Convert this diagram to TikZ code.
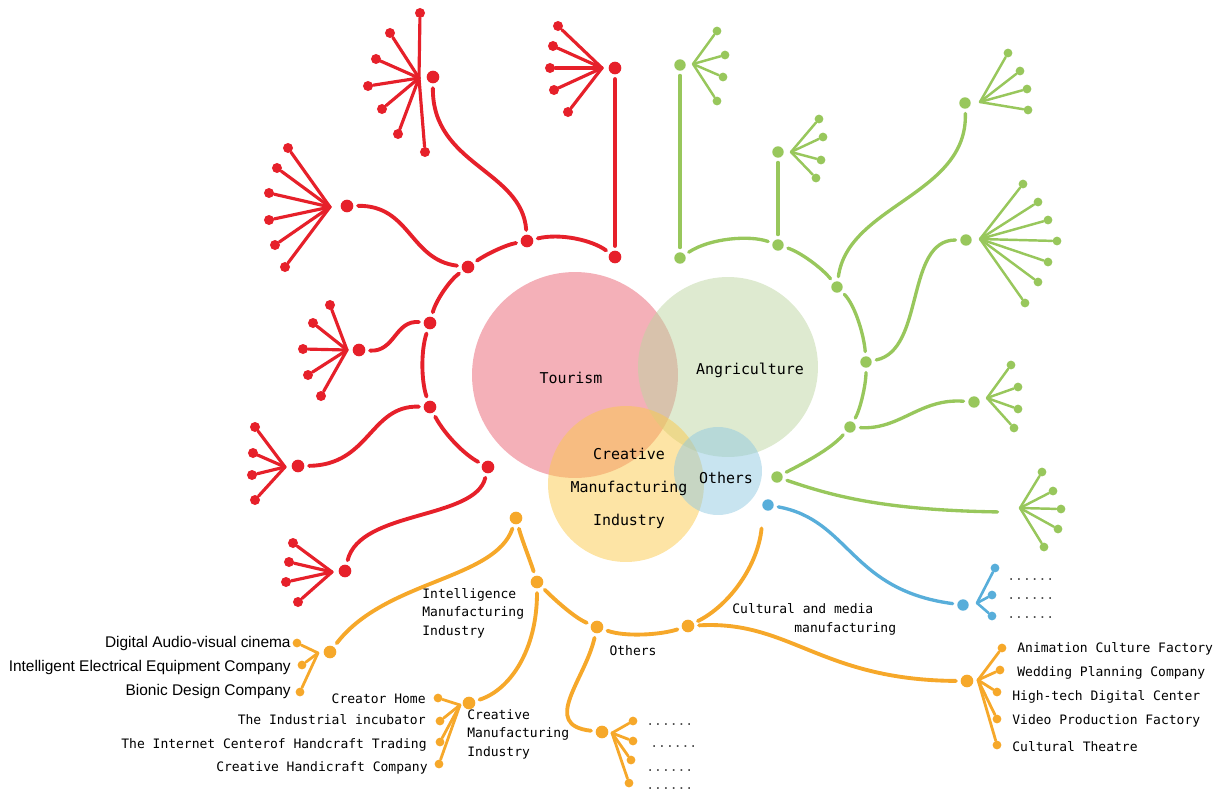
\documentclass[tikz,border=0pt]{standalone}
\usepackage{fontspec}
\newfontfamily\labelmono{DejaVu Sans Mono}
\newfontfamily\labelsans{Liberation Sans}

\definecolor{tred}{RGB}{230,32,42}
\definecolor{tgreen}{RGB}{152,199,92}
\definecolor{torange}{RGB}{246,168,42}
\definecolor{tblue}{RGB}{88,174,218}
\definecolor{tpink}{RGB}{233,97,113}
\definecolor{tsage}{RGB}{189,213,161}
\definecolor{tsand}{RGB}{251,201,75}
\definecolor{tsky}{RGB}{145,201,225}

\begin{document}
\begin{tikzpicture}[x=0.02cm,y=-0.02cm,line cap=round]

	\tikzstyle{hub}=[circle,fill,inner sep=0pt,minimum size=7.2pt]
	\tikzstyle{leaf}=[circle,fill,inner sep=0pt,minimum size=5.7pt]
	\tikzstyle{link}=[line width=2.2pt,shorten <=2.5pt,shorten >=2.5pt]
	\tikzstyle{twig}=[line width=1.8pt]
	\tikzstyle{venn}=[circle,inner sep=0pt,fill opacity=0.5]
	\tikzstyle{venntext}=[font=\labelmono\fontsize{8.5}{18.8}\selectfont,align=center]
	\tikzstyle{word}=[font=\labelmono\fontsize{7.4}{10.5}\selectfont,
		inner sep=0pt,text height=1.6ex,text depth=.3ex]
	\tikzstyle{block}=[font=\labelmono\fontsize{7.4}{10.5}\selectfont,
		inner sep=0pt,align=left]
	\tikzstyle{firm}=[font=\labelsans\fontsize{8.8}{10}\selectfont,
		inner sep=0pt,text height=1.6ex,text depth=.3ex,anchor=east]

	\useasboundingbox (0,0) rectangle (1215,792);

	% the four sectors
	\node[venn,fill=tpink,minimum size=4.12cm]	(tourism)	at (575,375) {};
	\node[venn,fill=tsage,minimum size=3.6cm]	(agri)		at (728,367) {};
	\node[venn,fill=tsand,minimum size=3.12cm]	(creative)	at (626,484) {};
	\node[venn,fill=tsky,minimum size=1.76cm]	(others)	at (718,471) {};
	\node[venntext]	(tourismlab)	at (571,378) {Tourism};
	\node[venntext]	(agrilab)		at (750,370) {Angriculture};
	\node[venntext]	(creativelab)	at (629,488) {Creative\\Manufacturing\\Industry};
	\node[venntext]	(otherslab)		at (726,478) {Others};

	% tourism
	\begin{scope}[tred]
		\node[hub]	(r1)	at (615,257) {};
		\node[hub]	(r2)	at (527,241) {};
		\node[hub]	(r3)	at (468,267) {};
		\node[hub]	(r4)	at (430,323) {};
		\node[hub]	(r5)	at (430,407) {};
		\node[hub]	(r6)	at (488,467) {};
		\node[hub]	(ra)	at (615,68) {};
		\node[hub]	(rb)	at (433,77) {};
		\node[hub]	(rc)	at (347,206) {};
		\node[hub]	(rd)	at (359,350) {};
		\node[hub]	(re)	at (298,466) {};
		\node[hub]	(rf)	at (345,571) {};

		\draw[link] (r2) .. controls (560,233) and (592,240) .. (r1);
		\draw[link] (r3) .. controls (485,255) and (505,245) .. (r2);
		\draw[link] (r4) .. controls (436,300) and (450,280) .. (r3);
		\draw[link] (r5) .. controls (421,380) and (421,350) .. (r4);
		\draw[link] (r6) .. controls (465,455) and (445,435) .. (r5);

		\draw[link] (r1) -- (ra);
		\draw[link] (r2) .. controls (522,170) and (432,165) .. (rb);
		\draw[link] (r3) .. controls (410,260) and (410,205) .. (rc);
		\draw[link] (r4) .. controls (395,320) and (395,352) .. (rd);
		\draw[link] (r5) .. controls (370,405) and (370,465) .. (re);
		\draw[link] (r6) .. controls (475,520) and (360,510) .. (rf);

		\coordinate (rca) at (602,68);
		\coordinate (rcb) at (419,78);
		\coordinate (rcc) at (330,207);
		\coordinate (rcd) at (347,350);
		\coordinate (rce) at (285,467);
		\coordinate (rcf) at (332,572);
		\foreach \x/\y [count=\i] in {558/26,553/46,550/68,554/90,568/112}
			{\node[leaf] (ra\i) at (\x,\y) {}; \draw[twig] (rca) -- (ra\i);}
		\foreach \x/\y [count=\i] in {420/13,390/33,376/59,368/86,382/109,398/134,425/152}
			{\node[leaf] (rb\i) at (\x,\y) {}; \draw[twig] (rcb) -- (rb\i);}
		\foreach \x/\y [count=\i] in {288/148,277/168,269/193,269/220,275/245,285/267}
			{\node[leaf] (rc\i) at (\x,\y) {}; \draw[twig] (rcc) -- (rc\i);}
		\foreach \x/\y [count=\i] in {330/305,313/323,303/349,308/375,321/396}
			{\node[leaf] (rd\i) at (\x,\y) {}; \draw[twig] (rcd) -- (rd\i);}
		\foreach \x/\y [count=\i] in {255/427,253/453,252/475,255/500}
			{\node[leaf] (re\i) at (\x,\y) {}; \draw[twig] (rce) -- (re\i);}
		\foreach \x/\y [count=\i] in {293/543,289/562,286/582,298/602}
			{\node[leaf] (rf\i) at (\x,\y) {}; \draw[twig] (rcf) -- (rf\i);}
	\end{scope}

	% agriculture
	\begin{scope}[tgreen,hub/.append style={minimum size=6.5pt},
			leaf/.append style={minimum size=5pt},
			link/.append style={line width=1.9pt},twig/.append style={line width=1.4pt}]
		\node[hub]	(g1)	at (680,258) {};
		\node[hub]	(g2)	at (778,245) {};
		\node[hub]	(g3)	at (837,287) {};
		\node[hub]	(g4)	at (866,362) {};
		\node[hub]	(g5)	at (850,427) {};
		\node[hub]	(g6)	at (777,477) {};
		\node[hub]	(ga)	at (680,65) {};
		\node[hub]	(gb)	at (778,152) {};
		\node[hub]	(gc)	at (965,103) {};
		\node[hub]	(gd)	at (966,240) {};
		\node[hub]	(ge)	at (974,402) {};
		\coordinate (gend) at (1002,512);

		\draw[link] (g1) .. controls (710,238) and (750,235) .. (g2);
		\draw[link] (g2) .. controls (800,252) and (822,268) .. (g3);
		\draw[link] (g3) .. controls (855,305) and (864,335) .. (g4);
		\draw[link] (g4) .. controls (866,385) and (860,410) .. (g5);
		\draw[link] (g5) .. controls (830,450) and (800,465) .. (g6);

		\draw[link] (g1) -- (ga);
		\draw[link] (g2) -- (gb);
		\draw[link] (g3) .. controls (848,205) and (968,195) .. (gc);
		\draw[link] (g4) .. controls (925,350) and (905,240) .. (gd);
		\draw[link] (g5) .. controls (900,430) and (920,398) .. (ge);
		\draw[link] (g6) .. controls (830,495) and (880,510) .. (gend);

		\coordinate (gca) at (693,64);
		\coordinate (gcb) at (791,152);
		\coordinate (gcc) at (980,102);
		\coordinate (gcd) at (980,239);
		\coordinate (gce) at (987,398);
		\coordinate (gcf) at (1020,508);
		\foreach \x/\y [count=\i] in {717/31,725/55,723/77,717/101}
			{\node[leaf] (ga\i) at (\x,\y) {}; \draw[twig] (gca) -- (ga\i);}
		\foreach \x/\y [count=\i] in {819/119,823/137,821/160,816/178}
			{\node[leaf] (gb\i) at (\x,\y) {}; \draw[twig] (gcb) -- (gb\i);}
		\foreach \x/\y [count=\i] in {1008/53,1020/71,1027/89,1028/110}
			{\node[leaf] (gc\i) at (\x,\y) {}; \draw[twig] (gcc) -- (gc\i);}
		\foreach \x/\y [count=\i] in {1023/184,1038/202,1048/220,1057/241,1048/262,1038/282,1025/303}
			{\node[leaf] (gd\i) at (\x,\y) {}; \draw[twig] (gcd) -- (gd\i);}
		\foreach \x/\y [count=\i] in {1011/365,1018/387,1018/409,1014/428}
			{\node[leaf] (ge\i) at (\x,\y) {}; \draw[twig] (gce) -- (ge\i);}
		\foreach \x/\y [count=\i] in {1042/472,1053/491,1061/509,1058/529,1044/547}
			{\node[leaf] (gf\i) at (\x,\y) {}; \draw[twig] (gcf) -- (gf\i);}
	\end{scope}

	% others
	\begin{scope}[tblue,hub/.append style={minimum size=6.5pt},
			leaf/.append style={minimum size=5pt},
			link/.append style={line width=1.9pt},twig/.append style={line width=1.5pt}]
		\node[hub]	(b0)	at (768,505) {};
		\node[hub]	(bh)	at (963,605) {};
		\draw[link] (b0) .. controls (850,520) and (850,590) .. (bh);
		\coordinate (bc) at (977,603);
		\foreach \x/\y [count=\i] in {995/568,992/595,992/616}
			{\node[leaf] (b\i) at (\x,\y) {}; \draw[twig] (bc) -- (b\i);}
	\end{scope}
	\foreach \y [count=\i] in {580,599,618}
		\node[word,anchor=base west,text=black!70] (bdots\i) at (1007,\y) {......};

	% creative manufacturing
	\begin{scope}[torange,leaf/.append style={minimum size=5pt},twig/.append style={line width=1.6pt}]
		\node[hub]	(o1)	at (516,518) {};
		\node[hub]	(o2)	at (537,582) {};
		\node[hub]	(o3)	at (597,627) {};
		\node[hub]	(o4)	at (688,626) {};
		\node[hub]	(oa)	at (330,652) {};
		\node[hub]	(ob)	at (469,703) {};
		\node[hub]	(oc)	at (602,732) {};
		\node[hub]	(od)	at (967,681) {};
		\coordinate (oend) at (762,524);

		\draw[link] (o1) .. controls (522,540) and (530,560) .. (o2);
		\draw[link] (o2) .. controls (555,600) and (575,618) .. (o3);
		\draw[link] (o3) .. controls (625,637) and (660,635) .. (o4);
		\draw[link] (o4) .. controls (730,605) and (758,565) .. (oend);

		\draw[link] (o1) .. controls (495,580) and (385,580) .. (oa);
		\draw[link] (o2) .. controls (537,650) and (510,690) .. (ob);
		\draw[link] (o3) .. controls (585,680) and (540,725) .. (oc);
		\draw[link] (o4) .. controls (790,620) and (820,680) .. (od);

		\coordinate (oca) at (318,653);
		\coordinate (ocb) at (460,705);
		\coordinate (occ) at (612,733);
		\coordinate (ocd) at (978,680);
		\foreach \x/\y [count=\i] in {297/643,302/665,300/692}
			{\node[leaf] (oa\i) at (\x,\y) {}; \draw[twig] (oca) -- (oa\i);}
		\foreach \x/\y [count=\i] in {438/698,440/721,440/742,439/764}
			{\node[leaf] (ob\i) at (\x,\y) {}; \draw[twig] (ocb) -- (ob\i);}
		\foreach \x/\y [count=\i] in {633/721,633/741,631/760,629/783}
			{\node[leaf] (oc\i) at (\x,\y) {}; \draw[twig] (occ) -- (oc\i);}
		\foreach \x/\y [count=\i] in {1002/648,1000/670,997/692,997/719,997/745}
			{\node[leaf] (od\i) at (\x,\y) {}; \draw[twig] (ocd) -- (od\i);}
	\end{scope}

	\node[block,anchor=west]	(intel)		at (422,613) {Intelligence\\Manufacturing\\Industry};
	\node[block,anchor=west]	(craft)		at (467,734) {Creative\\Manufacturing\\Industry};
	\node[word]					(otherlab)	at (633,651) {Others};
	\node[word,anchor=west]		(media1)	at (732,609) {Cultural and media};
	\node[word,anchor=west]		(media2)	at (794,628) {manufacturing};

	\node[firm]	(cinema)	at (291,643) {Digital Audio-visual cinema};
	\node[firm]	(electric)	at (291,667) {Intelligent Electrical Equipment Company};
	\node[firm]	(bionic)	at (291,691) {Bionic Design Company};

	\node[word,anchor=east]	(creator)	at (426,699) {Creator Home};
	\node[word,anchor=east]	(incub)		at (426,720) {The Industrial incubator};
	\node[word,anchor=east]	(trading)	at (427,744) {The Internet Centerof Handcraft Trading};
	\node[word,anchor=east]	(handi)		at (428,767) {Creative Handicraft Company};

	\foreach \x/\y [count=\i] in {646/725,650/747,646/771,646/789}
		\node[word,anchor=base west,text=black!70] (odots\i) at (\x,\y) {......};

	\node[word,anchor=west]	(anim)		at (1017,648) {Animation Culture Factory};
	\node[word,anchor=west]	(wedding)	at (1017,672) {Wedding Planning Company};
	\node[word,anchor=west]	(hitech)	at (1012,696) {High-tech Digital Center};
	\node[word,anchor=west]	(video)		at (1012,720) {Video Production Factory};
	\node[word,anchor=west]	(theatre)	at (1012,747) {Cultural Theatre};

\end{tikzpicture}
\end{document}
